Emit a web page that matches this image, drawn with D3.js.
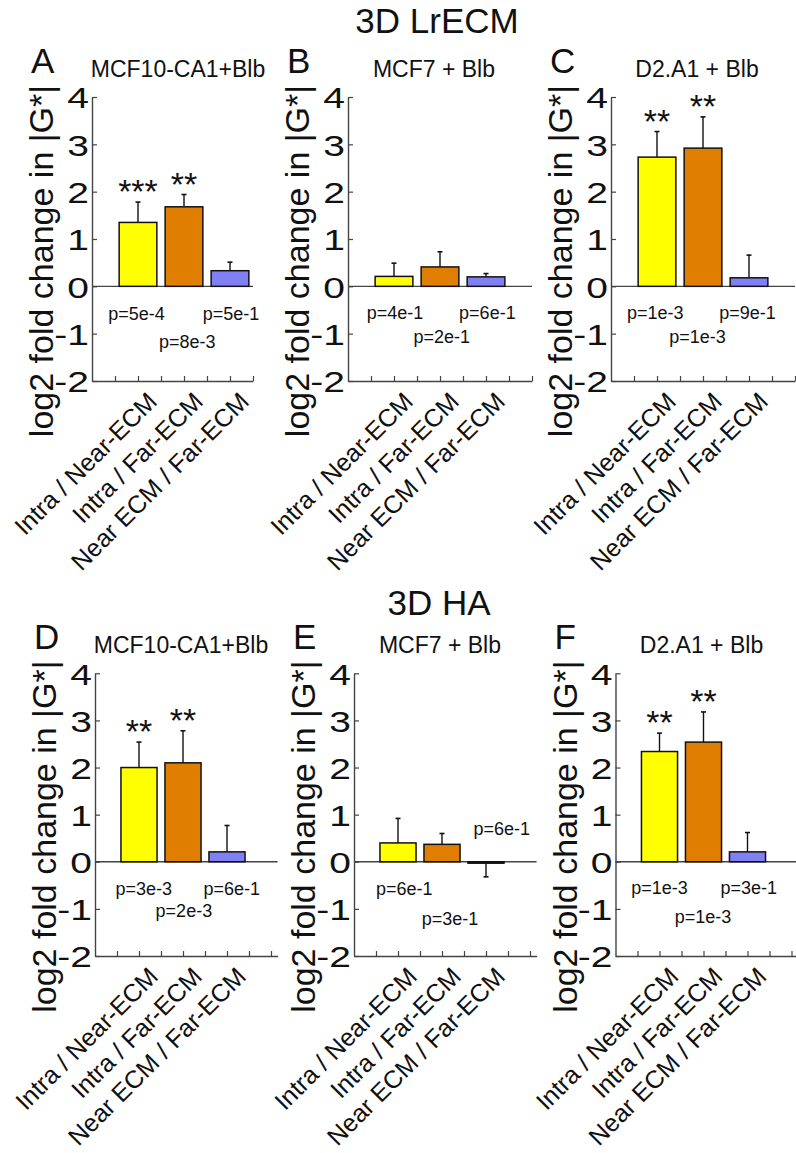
<!DOCTYPE html>
<html>
<head>
<meta charset="utf-8">
<script src="https://cdn.jsdelivr.net/npm/d3@7"></script>
<style>
  html, body { margin: 0; padding: 0; background: #fff; }
  svg { display: block; font-family: "Liberation Sans", Arial, sans-serif; }
</style>
</head>
<body>
<div id="chart"></div>
<script>
// ---- data ----
const categories = ["Intra / Near-ECM", "Intra / Far-ECM", "Near ECM / Far-ECM"];
const groupTitles = ["3D LrECM", "3D HA"];
const panelLetters = ["A", "B", "C", "D", "E", "F"];
const panelTitles = ["MCF10-CA1+Blb", "MCF7 + Blb", "D2.A1 + Blb",
                     "MCF10-CA1+Blb", "MCF7 + Blb", "D2.A1 + Blb"];
const yTicks = [-2, -1, 0, 1, 2, 3, 4];

const values = [
  [1.35, 1.68, 0.33],
  [0.21, 0.41, 0.20],
  [2.73, 2.92, 0.18],
  [2.00, 2.10, 0.21],
  [0.40, 0.37, -0.03],
  [2.34, 2.54, 0.21]
];
const errors = [
  [0.43, 0.26, 0.18],
  [0.28, 0.32, 0.07],
  [0.54, 0.66, 0.48],
  [0.54, 0.68, 0.56],
  [0.52, 0.23, 0.29],
  [0.39, 0.64, 0.41]
];
const stars = [
  ["***", "**", ""],
  ["", "", ""],
  ["**", "**", ""],
  ["**", "**", ""],
  ["", "", ""],
  ["**", "**", ""]
];
const pLabels = [
  ["p=5e-4", "p=8e-3", "p=5e-1"],
  ["p=4e-1", "p=2e-1", "p=6e-1"],
  ["p=1e-3", "p=1e-3", "p=9e-1"],
  ["p=3e-3", "p=2e-3", "p=6e-1"],
  ["p=6e-1", "p=3e-1", "p=6e-1"],
  ["p=1e-3", "p=1e-3", "p=3e-1"]
];
// where each p label sits, in the panel's own x (category) and y units
const pX = [
  [0.97, 2.07, 3.02],
  [1.02, 2.04, 3.03],
  [0.96, 1.88, 2.97],
  [1.11, 2.02, 3.11],
  [1.14, 2.18, 3.36],
  [1.00, 1.99, 3.03]
];
const pY = [
  [-0.72, -1.31, -0.72],
  [-0.70, -1.20, -0.70],
  [-0.70, -1.19, -0.70],
  [-0.71, -1.17, -0.71],
  [-0.70, -1.34, 0.57],
  [-0.69, -1.31, -0.69]
];

// ---- layout ----
const W = 796, H = 1153;
const colors = ["#ffff00", "#df7e00", "#8080f4"];
const axisColor = "#444";
const panels = [
  { left: 92,    top: 97,    h: 284,   ux: 46, xMax: 3.5 },
  { left: 348,   top: 97,    h: 284,   ux: 46, xMax: 4 },
  { left: 611,   top: 97,    h: 284,   ux: 46, xMax: 4 },
  { left: 95,    top: 673.3, h: 282.7, ux: 44, xMax: 4.15 },
  { left: 354,   top: 673.3, h: 282.7, ux: 44, xMax: 4.15 },
  { left: 615.5, top: 673.3, h: 282.7, ux: 44, xMax: 4.15 }
];
const groupTitlePos = [[437, 33], [439, 615]];

const svg = d3.select("#chart").append("svg")
  .attr("width", W)
  .attr("height", H);

groupTitles.forEach((t, i) => {
  svg.append("text")
    .attr("x", groupTitlePos[i][0])
    .attr("y", groupTitlePos[i][1])
    .attr("text-anchor", "middle")
    .attr("font-size", "35px")
    .attr("fill", "#111")
    .text(t);
});

function drawPanel(p, k) {
  const x = d3.scaleLinear().domain([0, p.xMax]).range([0, p.ux * p.xMax]);
  const y = d3.scaleLinear().domain([-2, 4]).range([p.h, 0]);
  const g = svg.append("g").attr("transform", `translate(${p.left},${p.top})`);
  const bw = p.ux * 0.82;

  // letter and title
  g.append("text")
    .attr("x", -61).attr("y", -24)
    .attr("font-size", "35px").attr("fill", "#111")
    .text(panelLetters[k]);
  g.append("text")
    .attr("x", 86).attr("y", -20.5)
    .attr("text-anchor", "middle")
    .attr("font-size", "23px").attr("fill", "#111")
    .text(panelTitles[k]);

  // y label
  g.append("text")
    .attr("transform", `translate(-39,${(y(4) + y(-2)) / 2 + 22}) rotate(-90)`)
    .attr("text-anchor", "middle")
    .attr("font-size", "34px").attr("fill", "#111")
    .text("log2 fold change in |G*|");

  // zero line
  g.append("line")
    .attr("x1", x(0)).attr("x2", x(p.xMax))
    .attr("y1", y(0)).attr("y2", y(0))
    .attr("stroke", axisColor).attr("stroke-width", 1.4);

  // y axis
  const ya = g.append("g")
    .call(d3.axisLeft(y).tickValues(yTicks).tickSizeInner(-5).tickSizeOuter(0).tickPadding(2))
    .attr("font-family", null).attr("font-size", null);
  ya.select(".domain").attr("stroke", axisColor).attr("stroke-width", 1.4);
  ya.selectAll(".tick line").attr("stroke", axisColor).attr("stroke-width", 1.2);
  ya.selectAll(".tick text")
    .attr("font-size", "30px")
    .attr("fill", "#111")
    .attr("x", -3 / 1.3).attr("dy", "0.36em")
    .attr("transform", "scale(1.3,1)")
    .text(d => d < 0 ? "-" + Math.abs(d) : d);

  // x axis with minor ticks
  const xt = d3.range(0.5, p.xMax + 0.001, 0.5);
  const xa = g.append("g")
    .attr("transform", `translate(0,${y(-2)})`)
    .call(d3.axisBottom(x).tickValues(xt).tickSizeInner(-5).tickSizeOuter(0).tickFormat(""));
  xa.select(".domain").attr("stroke", axisColor).attr("stroke-width", 1.4);
  xa.selectAll(".tick line").attr("stroke", axisColor).attr("stroke-width", 1.2);

  // category labels
  const xl = g.append("g")
    .attr("transform", `translate(0,${y(-2)})`)
    .call(d3.axisBottom(x).tickValues([1, 2, 3]).tickSize(0)
      .tickFormat(d => categories[d - 1]))
    .attr("font-family", null).attr("font-size", null);
  xl.select(".domain").remove();
  xl.selectAll(".tick text")
    .attr("font-size", "25px")
    .attr("fill", "#111")
    .attr("x", 0).attr("y", 0).attr("dy", null)
    .attr("text-anchor", "end")
    .attr("transform", "translate(20,22) rotate(-45)");

  const vals = values[k], errs = errors[k];

  // bars
  g.selectAll("rect.bar").data(vals).enter().append("rect")
    .attr("class", "bar")
    .attr("x", (d, i) => x(i + 1) - bw / 2)
    .attr("width", bw)
    .attr("y", d => y(Math.max(d, 0)))
    .attr("height", d => Math.abs(y(d) - y(0)))
    .attr("fill", (d, i) => colors[i])
    .attr("stroke", "#111").attr("stroke-width", 1.5);

  // error bars (one-sided, away from zero)
  const tip = (d, i) => d >= 0 ? d + errs[i] : d - errs[i];
  g.selectAll("line.err").data(vals).enter().append("line")
    .attr("class", "err")
    .attr("x1", (d, i) => x(i + 1)).attr("x2", (d, i) => x(i + 1))
    .attr("y1", d => y(d)).attr("y2", (d, i) => y(tip(d, i)))
    .attr("stroke", "#111").attr("stroke-width", 1.4);
  g.selectAll("line.cap").data(vals).enter().append("line")
    .attr("class", "cap")
    .attr("x1", (d, i) => x(i + 1) - 2.5).attr("x2", (d, i) => x(i + 1) + 2.5)
    .attr("y1", (d, i) => y(tip(d, i))).attr("y2", (d, i) => y(tip(d, i)))
    .attr("stroke", "#111").attr("stroke-width", 1.6);

  // significance stars
  g.selectAll("text.star").data(vals).enter().append("text")
    .attr("class", "star")
    .attr("x", (d, i) => x(i + 1))
    .attr("y", (d, i) => y(tip(d, i)) + 1)
    .attr("text-anchor", "middle")
    .attr("font-size", "34px").attr("fill", "#111")
    .text((d, i) => stars[k][i]);

  // p values
  g.selectAll("text.pv").data(pLabels[k]).enter().append("text")
    .attr("class", "pv")
    .attr("x", (d, i) => x(pX[k][i]))
    .attr("y", (d, i) => y(pY[k][i]))
    .attr("text-anchor", "middle")
    .attr("font-size", "18px").attr("fill", "#111")
    .text(d => d);
}

panels.forEach(drawPanel);
</script>
</body>
</html>
